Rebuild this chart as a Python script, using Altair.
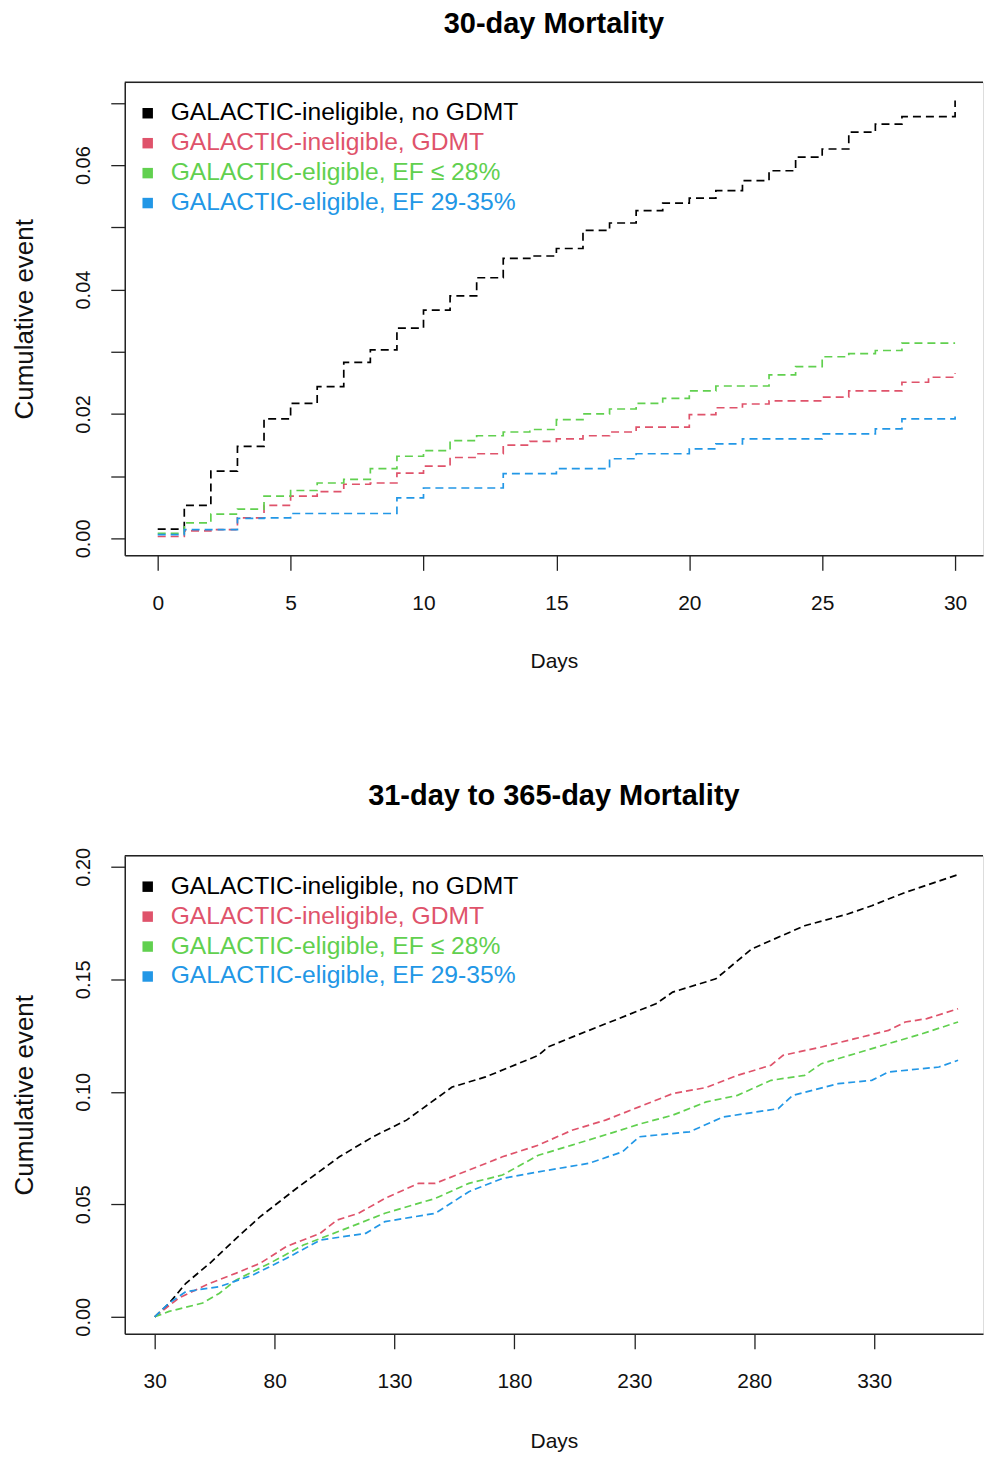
import altair as alt
import pandas as pd

groups = ["GALACTIC-ineligible, no GDMT", "GALACTIC-ineligible, GDMT",
          "GALACTIC-eligible, EF \u2264 28%", "GALACTIC-eligible, EF 29-35%"]
colors = ["#000000", "#DF536B", "#61D04F", "#2297E6"]

# ---- 30-day mortality (daily steps, day 0..30)
days30 = list(range(31))
black30 = [0.0015, 0.0053, 0.0108, 0.0148, 0.0192, 0.0217, 0.0244, 0.0283, 0.0303, 0.0338,
           0.0367, 0.0390, 0.0419, 0.0450, 0.0454, 0.0466, 0.0495, 0.0507, 0.0527, 0.0539,
           0.0547, 0.0559, 0.0575, 0.0591, 0.0613, 0.0626, 0.0653, 0.0666, 0.0678, 0.0678, 0.0704]
red30 = [0.0003, 0.0012, 0.0014, 0.0033, 0.0053, 0.0068, 0.0075, 0.0087, 0.0089, 0.0105,
         0.0116, 0.0130, 0.0136, 0.0150, 0.0156, 0.0160, 0.0165, 0.0171, 0.0179, 0.0179,
         0.0199, 0.0210, 0.0216, 0.0221, 0.0221, 0.0227, 0.0237, 0.0237, 0.0251, 0.0259, 0.0266]
green30 = [0.0008, 0.0025, 0.0039, 0.0047, 0.0068, 0.0077, 0.0089, 0.0095, 0.0112, 0.0132,
           0.0141, 0.0157, 0.0165, 0.0171, 0.0175, 0.0191, 0.0200, 0.0208, 0.0217, 0.0225,
           0.0237, 0.0245, 0.0245, 0.0263, 0.0276, 0.0292, 0.0297, 0.0302, 0.0314, 0.0314, 0.0314]
blue30 = [0.0006, 0.0014, 0.0014, 0.0032, 0.0033, 0.0040, 0.0040, 0.0040, 0.0040, 0.0065,
          0.0081, 0.0081, 0.0081, 0.0104, 0.0104, 0.0112, 0.0112, 0.0128, 0.0136, 0.0136,
          0.0144, 0.0152, 0.0160, 0.0160, 0.0160, 0.0168, 0.0168, 0.0176, 0.0192, 0.0192, 0.0196]

# ---- 31-day to 365-day mortality
black_days = [30, 36, 43, 53, 64, 74, 90, 107, 121, 135, 154, 168, 190, 194, 204, 218, 239, 246,
              264, 279, 301, 319, 329, 343, 365]
black_vals = [0.0, 0.0060, 0.0149, 0.0238, 0.0349, 0.0445, 0.0578, 0.0711, 0.0800, 0.0874,
              0.1021, 0.1066, 0.1162, 0.1199, 0.1243, 0.1302, 0.1391, 0.1443, 0.1502, 0.1635,
              0.1738, 0.1790, 0.1827, 0.1886, 0.1965]
red_days = [30, 40, 53, 64, 74, 85, 99, 106, 115, 126, 140, 147, 161, 175, 190, 204, 218, 232,
            246, 260, 273, 287, 292, 308, 322, 336, 343, 352, 365]
red_vals = [0.0, 0.0083, 0.0149, 0.0194, 0.0238, 0.0313, 0.0371, 0.0430, 0.0460, 0.0526,
            0.0593, 0.0593, 0.0652, 0.0711, 0.0763, 0.0829, 0.0874, 0.0933, 0.0992, 0.1019,
            0.1073, 0.1118, 0.1162, 0.1199, 0.1236, 0.1273, 0.1310, 0.1325, 0.1369]
green_days = [30, 36, 50, 57, 64, 78, 92, 110, 126, 147, 161, 175, 190, 204, 222, 232, 246,
              260, 273, 287, 301, 308, 322, 336, 350, 365]
green_vals = [0.0, 0.0024, 0.0061, 0.0105, 0.0164, 0.0238, 0.0319, 0.0393, 0.0460, 0.0526,
              0.0593, 0.0630, 0.0718, 0.0763, 0.0822, 0.0856, 0.0896, 0.0955, 0.0984, 0.1051,
              0.1073, 0.1125, 0.1169, 0.1214, 0.1258, 0.1310]
blue_days = [30, 36, 43, 57, 71, 85, 99, 118, 126, 147, 161, 175, 190, 211, 225, 232, 253, 267,
             290, 296, 315, 329, 336, 357, 365]
blue_vals = [0.0, 0.0061, 0.0112, 0.0134, 0.0186, 0.0260, 0.0341, 0.0371, 0.0423, 0.0460,
             0.0556, 0.0615, 0.0644, 0.0682, 0.0733, 0.0800, 0.0822, 0.0888, 0.0925, 0.0984,
             0.1036, 0.1051, 0.1088, 0.1110, 0.1140]

top_ticks_x = [0, 5, 10, 15, 20, 25, 30]
top_ticks_y = [0.0, 0.01, 0.02, 0.03, 0.04, 0.05, 0.06, 0.07]
bot_ticks_x = [30, 80, 130, 180, 230, 280, 330]
bot_ticks_y = [0.0, 0.05, 0.10, 0.15, 0.20]

df_top = pd.DataFrame([
    {"group": g, "day": d, "value": v}
    for g, vals in zip(groups, [black30, red30, green30, blue30])
    for d, v in zip(days30, vals)
])
df_bot = pd.DataFrame([
    {"group": g, "day": d, "value": v}
    for g, ds, vs in zip(groups,
                         [black_days, red_days, green_days, blue_days],
                         [black_vals, red_vals, green_vals, blue_vals])
    for d, v in zip(ds, vs)
])
leg_df = pd.DataFrame({"group": groups, "idx": [0, 1, 2, 3]})

NARROW = "Liberation Sans Narrow, Liberation Sans, Arial, sans-serif"
SANS = "Liberation Sans, Arial, sans-serif"
AXC = "#222222"
W = 860

color_enc = alt.Color("group:N", scale=alt.Scale(domain=groups, range=colors), legend=None)


def panel(df, title, xdom, ydom, xticks, yticks, ylabel_expr, height, interp, dash, toff, xtpad):
    x = alt.X("day:Q", scale=alt.Scale(domain=xdom, nice=False, zero=False),
              axis=alt.Axis(values=xticks, title="Days", grid=False, domain=True,
                            domainColor=AXC, domainWidth=1.5, tickColor=AXC, tickWidth=1.3,
                            tickSize=15, labelFont=NARROW, labelFontSize=21, labelColor="#111",
                            labelPadding=22, labelFlush=False, labelOverlap=False,
                            titleFont=NARROW, titleFontSize=21, titleFontWeight="normal",
                            titleColor="#111", titlePadding=xtpad))
    y = alt.Y("value:Q", scale=alt.Scale(domain=ydom, nice=False, zero=False),
              axis=alt.Axis(values=yticks, labelExpr=ylabel_expr, title="Cumulative event",
                            grid=False, domain=True, domainColor=AXC, domainWidth=1.5,
                            tickColor=AXC, tickWidth=1.3, tickSize=14,
                            labelAngle=-90, labelAlign="center", labelBaseline="alphabetic",
                            labelFont=SANS, labelFontSize=20, labelColor="#111",
                            labelPadding=21, labelFlush=False, labelOverlap=False,
                            titleFont=SANS, titleFontSize=26, titleFontWeight="normal",
                            titleColor="#111", titlePadding=36))
    lines = alt.Chart(df).mark_line(interpolate=interp, strokeDash=dash, strokeWidth=1.7,
                                    clip=True).encode(x=x, y=y, color=color_enc, detail="group:N")
    top_rule = alt.Chart(pd.DataFrame({"a": [0]})).mark_rule(
        color=AXC, strokeWidth=1.5).encode(y=alt.value(0))
    leg_y = alt.Y("idx:O", scale=alt.Scale(type="point", domain=[0, 1, 2, 3],
                                           range=[31, 121], padding=0), axis=None)
    squares = alt.Chart(leg_df).mark_square(size=110, filled=True, opacity=1).encode(
        x=alt.value(23), y=leg_y, color=color_enc)
    texts = alt.Chart(leg_df).mark_text(align="left", baseline="middle", fontSize=24.7,
                                        font=SANS).encode(
        x=alt.value(46), y=leg_y, text="group:N", color=color_enc)
    return alt.layer(lines, top_rule, squares, texts).resolve_scale(y="independent").properties(
        width=W, height=height,
        title=alt.TitleParams(title, font=SANS, fontSize=29, fontWeight="bold", color="#000",
                              anchor="middle", frame="group", offset=toff))


top = panel(df_top, "30-day Mortality", [-1.24, 31.05], [-0.00273, 0.07332],
            top_ticks_x, top_ticks_y,
            "round(datum.value * 100) % 2 == 0 ? format(datum.value, '.2f') : ''",
            474, "step-after", [8, 5], 43, 37)
bottom = panel(df_bot, "31-day to 365-day Mortality", [17.5, 375.4], [-0.00754, 0.2049],
               bot_ticks_x, bot_ticks_y, "format(datum.value, '.2f')",
               479, "linear", [7, 4], 36, 39)

chart = alt.vconcat(top, bottom, spacing=110).properties(
    padding={"left": 11, "top": 7, "right": 0, "bottom": 0}
).configure_view(stroke=None).configure(background="white")

chart.save("out.html", embed_options={"renderer": "svg", "actions": False})
